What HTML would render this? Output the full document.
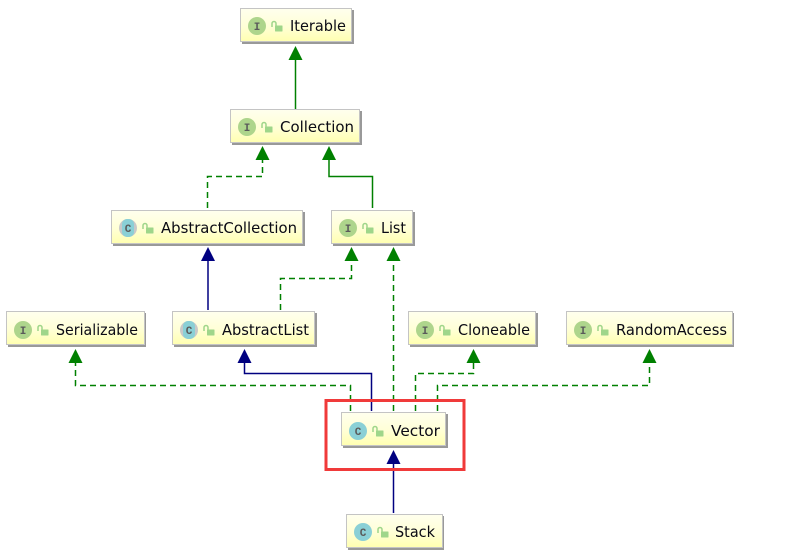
<!DOCTYPE html>
<html>
<head>
<meta charset="utf-8">
<style>
html,body{margin:0;padding:0;background:#fff;width:793px;height:556px;overflow:hidden}
svg{display:block}
text{font-family:"DejaVu Sans","Liberation Sans",sans-serif}
.t{font-size:15.500px;fill:#0a0a14}
.l{font-size:11px;font-weight:bold;fill:#5a5a5a;font-family:"Liberation Mono",monospace}
</style>
</head>
<body>
<svg width="793" height="556" viewBox="0 0 793 556" xmlns="http://www.w3.org/2000/svg">
<defs>
<linearGradient id="g" x1="0" y1="0" x2="0" y2="1">
<stop offset="0" stop-color="#ffffee"/>
<stop offset="0.55" stop-color="#ffffd6"/>
<stop offset="1" stop-color="#ffffb0"/>
</linearGradient>
<g id="lock" fill="none">
<rect x="0" y="3.500" width="7.500" height="6" rx="0.500" fill="#9fd68a"/>
<path d="M-3 5V1.500a2 2 0 0 1 4 0V3.500" stroke="#9fd68a" stroke-width="1.500"/>
</g>
</defs>

<!-- connectors -->
<g fill="none" stroke-width="1.500">
<g stroke="#008000">
<path d="M295.500 109V60"/>
<path d="M372.500 208V176.500H329V160"/>
</g>
<g stroke="#008000" stroke-dasharray="6 4">
<path d="M207.500 208V176.500H262.500V160"/>
<path d="M280.500 310V278.500H351.500V261"/>
<path d="M393.500 411V261"/>
<path d="M350.500 411V385.500H75.500V363"/>
<path d="M415.500 411V373.500H473.500V363"/>
<path d="M437.500 411V385.500H649.500V363"/>
</g>
<g stroke="#000080">
<path d="M208 310V261"/>
<path d="M371.500 411V373.500H244.500V363"/>
<path d="M393.500 513V464"/>
</g>
</g>

<!-- arrowheads -->
<g fill="#008000">
<polygon points="295.500,46 288.500,60 302.500,60"/>
<polygon points="262.500,146 255.500,160 269.500,160"/>
<polygon points="329,146 322,160 336,160"/>
<polygon points="351.500,247 344.500,261 358.500,261"/>
<polygon points="393.500,247 386.500,261 400.500,261"/>
<polygon points="75.500,349 68.500,363 82.500,363"/>
<polygon points="473.500,349 466.500,363 480.500,363"/>
<polygon points="649.500,349 642.500,363 656.500,363"/>
</g>
<g fill="#000080">
<polygon points="208,247 201,261 215,261"/>
<polygon points="244.500,349 237.500,363 251.500,363"/>
<polygon points="393.500,450 386.500,464 400.500,464"/>
</g>

<!-- red highlight -->
<rect x="326" y="400.500" width="138" height="69" fill="none" stroke="#f03a3a" stroke-width="3"/>

<!-- Iterable -->
<rect x="242" y="10" width="112" height="34" fill="#999"/>
<rect x="240.500" y="8.500" width="111" height="33" fill="url(#g)" stroke="#c4c4c4"/>
<circle cx="257" cy="26" r="9" fill="#aed58c"/><text class="l" x="257" y="30" text-anchor="middle">I</text>
<use href="#lock" x="275" y="22"/>
<text class="t" x="290" y="31" textLength="56" lengthAdjust="spacingAndGlyphs">Iterable</text>

<!-- Collection -->
<rect x="232" y="111" width="130" height="34" fill="#999"/>
<rect x="230.500" y="109.500" width="129" height="33" fill="url(#g)" stroke="#c4c4c4"/>
<circle cx="247" cy="127" r="9" fill="#aed58c"/><text class="l" x="247" y="131" text-anchor="middle">I</text>
<use href="#lock" x="265" y="123"/>
<text class="t" x="280" y="132" textLength="74" lengthAdjust="spacingAndGlyphs">Collection</text>

<!-- AbstractCollection -->
<rect x="113" y="212" width="192" height="34" fill="#999"/>
<rect x="111.500" y="210.500" width="191" height="33" fill="url(#g)" stroke="#c4c4c4"/>
<circle cx="128" cy="228" r="9" fill="#c8c8c8"/><rect x="122" y="219" width="12" height="18" rx="5" fill="#8ad0d6"/>
<text class="l" x="128" y="232" text-anchor="middle">C</text>
<use href="#lock" x="146" y="224"/>
<text class="t" x="161" y="233" textLength="136" lengthAdjust="spacingAndGlyphs">AbstractCollection</text>

<!-- List -->
<rect x="333" y="212" width="82" height="34" fill="#999"/>
<rect x="331.500" y="210.500" width="81" height="33" fill="url(#g)" stroke="#c4c4c4"/>
<circle cx="348" cy="228" r="9" fill="#aed58c"/><text class="l" x="348" y="232" text-anchor="middle">I</text>
<use href="#lock" x="366" y="224"/>
<text class="t" x="381" y="233" textLength="25" lengthAdjust="spacingAndGlyphs">List</text>

<!-- Serializable -->
<rect x="8" y="313" width="138" height="34" fill="#999"/>
<rect x="6.500" y="311.500" width="138" height="33" fill="url(#g)" stroke="#c4c4c4"/>
<circle cx="23" cy="330" r="9" fill="#aed58c"/><text class="l" x="23" y="334" text-anchor="middle">I</text>
<use href="#lock" x="41" y="326"/>
<text class="t" x="56" y="335" textLength="82" lengthAdjust="spacingAndGlyphs">Serializable</text>

<!-- AbstractList -->
<rect x="174" y="313" width="143" height="34" fill="#999"/>
<rect x="172.500" y="311.500" width="142" height="33" fill="url(#g)" stroke="#c4c4c4"/>
<circle cx="189" cy="330" r="9" fill="#c8c8c8"/><rect x="183" y="321" width="12" height="18" rx="5" fill="#8ad0d6"/>
<text class="l" x="189" y="334" text-anchor="middle">C</text>
<use href="#lock" x="207" y="326"/>
<text class="t" x="222" y="335" textLength="87" lengthAdjust="spacingAndGlyphs">AbstractList</text>

<!-- Cloneable -->
<rect x="410" y="313" width="128" height="34" fill="#999"/>
<rect x="408.500" y="311.500" width="127" height="33" fill="url(#g)" stroke="#c4c4c4"/>
<circle cx="425" cy="330" r="9" fill="#aed58c"/><text class="l" x="425" y="334" text-anchor="middle">I</text>
<use href="#lock" x="443" y="326"/>
<text class="t" x="458" y="335" textLength="72" lengthAdjust="spacingAndGlyphs">Cloneable</text>

<!-- RandomAccess -->
<rect x="568" y="313" width="166" height="34" fill="#999"/>
<rect x="566.500" y="311.500" width="166" height="33" fill="url(#g)" stroke="#c4c4c4"/>
<circle cx="583" cy="330" r="9" fill="#aed58c"/><text class="l" x="583" y="334" text-anchor="middle">I</text>
<use href="#lock" x="601" y="326"/>
<text class="t" x="616" y="335" textLength="111" lengthAdjust="spacingAndGlyphs">RandomAccess</text>

<!-- Vector -->
<rect x="343" y="414" width="105" height="34" fill="#999"/>
<rect x="341.500" y="412.500" width="104" height="33" fill="url(#g)" stroke="#c4c4c4"/>
<circle cx="358" cy="431" r="9" fill="#8ad0d6"/><text class="l" x="358" y="435" text-anchor="middle">C</text>
<use href="#lock" x="376" y="427"/>
<text class="t" x="391" y="436" textLength="49" lengthAdjust="spacingAndGlyphs">Vector</text>

<!-- Stack -->
<rect x="348" y="516" width="96" height="34" fill="#999"/>
<rect x="346.500" y="514.500" width="96" height="33" fill="url(#g)" stroke="#c4c4c4"/>
<circle cx="363" cy="532" r="9" fill="#8ad0d6"/><text class="l" x="363" y="536" text-anchor="middle">C</text>
<use href="#lock" x="381" y="528"/>
<text class="t" x="395" y="537" textLength="40" lengthAdjust="spacingAndGlyphs">Stack</text>
</svg>
</body>
</html>
